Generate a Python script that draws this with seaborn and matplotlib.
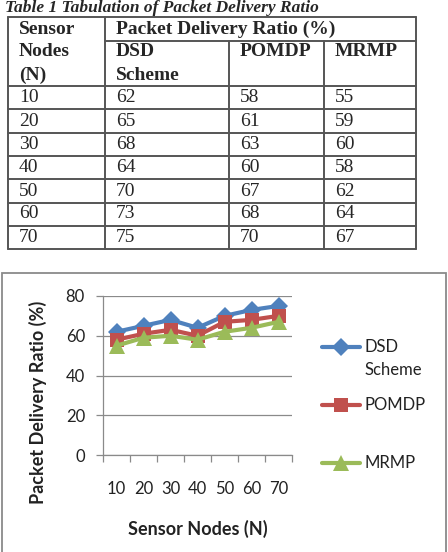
import matplotlib
matplotlib.use("Agg")
import matplotlib.pyplot as plt
import seaborn as sns
import pandas as pd
from matplotlib.lines import Line2D
from matplotlib.patches import Rectangle

# ---- data ----
nodes = ["10", "20", "30", "40", "50", "60", "70"]
dsd = [62, 65, 68, 64, 70, 73, 75]
pomdp = [58, 61, 63, 60, 67, 68, 70]
mrmp = [55, 59, 60, 58, 62, 64, 67]
series_names = ["DSD Scheme", "POMDP", "MRMP"]
y_ticks = [0, 20, 40, 60, 80]
table_title = "Table 1 Tabulation of Packet Delivery Ratio"

colors = {"DSD Scheme": "#4F81BD", "POMDP": "#C0504D", "MRMP": "#9BBB59"}
markers = {"DSD Scheme": "D", "POMDP": "s", "MRMP": "^"}
msizes = {"DSD Scheme": 9.5, "POMDP": 10.5, "MRMP": 11}

W, H = 448, 552
sns.set_theme(style="white")
plt.rcParams["font.family"] = ["Lato", "DejaVu Sans"]

fig = plt.figure(figsize=(W / 100, H / 100), dpi=100)
fig.patch.set_facecolor("white")


def fx(px):
    return px / W


def fy(py):
    return 1 - py / H


# ---- table ----
serif = ["Liberation Serif", "DejaVu Serif"]
fig.text(fx(5), fy(8), table_title, family=serif, fontsize=12.5,
         fontweight="bold", fontstyle="italic", va="center", ha="left")

col_x = [8, 105, 229, 324, 416]
row_y = [17, 41, 86, 109, 133, 156, 179, 203, 226, 249]
lc = "#555555"
lw = 1.4
for i, x in enumerate(col_x):
    y0 = 41 if i in (2, 3) else 17
    fig.add_artist(Line2D([fx(x), fx(x)], [fy(y0), fy(249)], color=lc, lw=lw))
for y in row_y:
    x0 = 105 if y == 41 else 8
    fig.add_artist(Line2D([fx(x0), fx(416)], [fy(y), fy(y)], color=lc, lw=lw))

tfs = 14
text_x = [19, 116, 240, 335]
bold = dict(family=serif, fontsize=tfs, fontweight="bold", va="center", ha="left")
norm = dict(family=serif, fontsize=tfs, va="center", ha="left")
fig.text(fx(19), fy(29), "Sensor", **bold)
fig.text(fx(19), fy(52), "Nodes", **bold)
fig.text(fx(19), fy(75), "(N)", **bold)
fig.text(fx(116), fy(29), "Packet Delivery Ratio (%)", **bold)
fig.text(fx(116), fy(52), "DSD", **bold)
fig.text(fx(116), fy(75), "Scheme", **bold)
fig.text(fx(240), fy(52), "POMDP", **bold)
fig.text(fx(335), fy(52), "MRMP", **bold)
row_centers = [98, 121, 145, 168, 191, 214, 237]
for i, n in enumerate(nodes):
    yy = fy(row_centers[i])
    fig.text(fx(text_x[0]), yy, n, **norm)
    fig.text(fx(text_x[1]), yy, str(dsd[i]), **norm)
    fig.text(fx(text_x[2]), yy, str(pomdp[i]), **norm)
    fig.text(fx(text_x[3]), yy, str(mrmp[i]), **norm)

# ---- chart frame ----
fig.add_artist(Rectangle((fx(2), fy(600)), fx(444), (600 - 273) / H,
                         fill=False, edgecolor="#8a8a8a", lw=1.3))

# ---- chart ----
ax_l, ax_r, ax_t, ax_b = 103, 292, 296, 455
ax = fig.add_axes([fx(ax_l), fy(ax_b), (ax_r - ax_l) / W, (ax_b - ax_t) / H])

df = pd.DataFrame({
    "N": nodes * 3,
    "PDR": dsd + pomdp + mrmp,
    "Scheme": [series_names[0]] * 7 + [series_names[1]] * 7 + [series_names[2]] * 7,
})
for name in series_names:
    sns.lineplot(data=df[df["Scheme"] == name], x="N", y="PDR", color=colors[name],
                 marker=markers[name], sort=False, linewidth=3,
                 markersize=msizes[name], markeredgewidth=0, legend=False, ax=ax)

ax.set_xlim(-0.5, 6.5)
ax.set_ylim(0, 80)
ax.set_yticks(y_ticks)
ax.set_xticks(range(len(nodes)))
ax.set_xticklabels(nodes)
ax.set_xticks([i - 0.5 for i in range(len(nodes) + 1)], minor=True)
ax.yaxis.grid(True, color="#8a8a8a", lw=0.9)
ax.set_axisbelow(True)
for s in ("top", "right"):
    ax.spines[s].set_visible(False)
for s in ("left", "bottom"):
    ax.spines[s].set_color("#8a8a8a")
    ax.spines[s].set_linewidth(0.9)
ax.tick_params(axis="y", which="major", length=5, width=0.9, color="#8a8a8a",
               pad=8, labelsize=12, labelcolor="#222222", left=True)
ax.tick_params(axis="x", which="major", length=0, pad=19, labelsize=12,
               labelcolor="#222222")
ax.tick_params(axis="x", which="minor", length=5, width=0.9, color="#8a8a8a",
               bottom=True)
ax.set_xlabel("Sensor Nodes (N)", fontsize=13, fontweight="bold",
              color="#222222", labelpad=16)
ax.set_ylabel("Packet Delivery Ratio (%)", fontsize=13, fontweight="bold",
              color="#222222")
ax.yaxis.set_label_coords((47 - ax_l) / (ax_r - ax_l), (ax_b - 402) / (ax_b - ax_t))

# ---- legend (manual) ----
leg_y = {"DSD Scheme": 347, "POMDP": 405, "MRMP": 463}
for name in series_names:
    y = leg_y[name]
    fig.add_artist(Line2D([fx(322), fx(341), fx(360)], [fy(y)] * 3,
                          color=colors[name], lw=3, marker=markers[name],
                          markersize=msizes[name], markeredgewidth=0, markevery=[1]))
fig.text(fx(364), fy(347), "DSD", fontsize=12, va="center", ha="left", color="#222222")
fig.text(fx(364), fy(370), "Scheme", fontsize=12, va="center", ha="left", color="#222222")
fig.text(fx(364), fy(405), "POMDP", fontsize=12, va="center", ha="left", color="#222222")
fig.text(fx(364), fy(463), "MRMP", fontsize=12, va="center", ha="left", color="#222222")

fig.savefig("out.png", dpi=100)
